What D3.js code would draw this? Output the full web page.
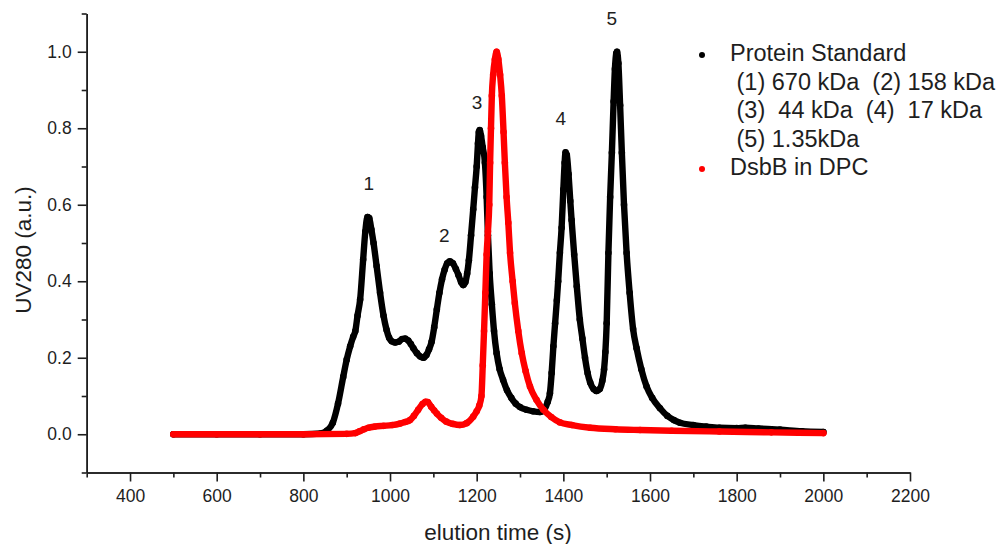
<!DOCTYPE html>
<html>
<head>
<meta charset="utf-8">
<script src="https://cdn.jsdelivr.net/npm/d3@7"></script>
<style>
  html, body { margin: 0; padding: 0; background: #fff; }
  svg { display: block; font-family: "Liberation Sans", Arial, sans-serif; }
  text { white-space: pre; }
</style>
</head>
<body>
<svg id="chart" width="1001" height="544"></svg>
<script>
// Elution time (s) and UV280 absorbance for the protein standard run
const standardTime = [500, 600, 700, 800, 840, 855, 868, 880, 892, 900, 908, 915, 920, 925, 931, 938, 943, 948, 952, 957, 962, 969, 977, 985, 992, 998, 1004, 1012, 1020, 1028, 1035, 1042, 1048, 1054, 1062, 1070, 1077, 1084, 1090, 1096, 1102, 1108, 1114, 1120, 1126, 1132, 1138, 1145, 1152, 1158, 1164, 1169, 1174, 1178, 1182, 1187, 1192, 1196, 1200, 1203, 1205, 1207, 1210, 1214, 1219, 1223, 1226, 1230, 1235, 1240, 1246, 1253, 1261, 1270, 1280, 1290, 1300, 1315, 1330, 1346, 1356, 1364, 1369, 1373, 1377, 1381, 1385, 1388, 1392, 1396, 1400, 1403, 1405, 1408, 1412, 1416, 1419, 1425, 1431, 1438, 1444, 1450, 1456, 1462, 1470, 1477, 1484, 1490, 1494, 1497, 1500, 1504, 1508, 1512, 1516, 1519, 1522, 1524, 1527, 1531, 1535, 1540, 1546, 1553, 1561, 1569, 1580, 1592, 1605, 1623, 1640, 1655, 1669, 1700, 1730, 1760, 1800, 1820, 1850, 1900, 1950, 2000];
const standardUV = [0, 0, 0, 0, 0.002, 0.01, 0.03, 0.08, 0.15, 0.195, 0.23, 0.255, 0.27, 0.31, 0.352, 0.457, 0.53, 0.568, 0.565, 0.535, 0.5, 0.44, 0.37, 0.31, 0.273, 0.252, 0.243, 0.24, 0.242, 0.249, 0.25, 0.245, 0.236, 0.225, 0.212, 0.203, 0.2, 0.207, 0.222, 0.242, 0.28, 0.326, 0.37, 0.405, 0.43, 0.447, 0.452, 0.447, 0.432, 0.416, 0.398, 0.39, 0.398, 0.42, 0.455, 0.52, 0.588, 0.645, 0.7, 0.76, 0.79, 0.795, 0.78, 0.75, 0.71, 0.62, 0.52, 0.42, 0.34, 0.27, 0.212, 0.17, 0.142, 0.115, 0.095, 0.08, 0.071, 0.064, 0.06, 0.058, 0.065, 0.085, 0.107, 0.16, 0.23, 0.29, 0.35, 0.4, 0.474, 0.54, 0.64, 0.71, 0.737, 0.73, 0.68, 0.61, 0.56, 0.47, 0.387, 0.3, 0.25, 0.2, 0.16, 0.135, 0.118, 0.113, 0.118, 0.14, 0.17, 0.215, 0.29, 0.474, 0.62, 0.736, 0.87, 0.955, 0.995, 1.0, 0.97, 0.86, 0.736, 0.6, 0.474, 0.37, 0.275, 0.225, 0.17, 0.125, 0.095, 0.068, 0.048, 0.037, 0.03, 0.024, 0.02, 0.017, 0.016, 0.017, 0.015, 0.012, 0.008, 0.006];

// Elution time (s) and UV280 absorbance for DsbB in DPC micelles
const dsbbTime = [500, 600, 700, 800, 900, 920, 930, 940, 950, 965, 985, 1005, 1023, 1035, 1046, 1055, 1065, 1075, 1082, 1087, 1095, 1102, 1108, 1118, 1130, 1145, 1161, 1177, 1192, 1200, 1206, 1211, 1214, 1217, 1220, 1223, 1226, 1229, 1231, 1233, 1235, 1238, 1242, 1246, 1250, 1254, 1258, 1262, 1265, 1269, 1273, 1277, 1283, 1288, 1296, 1304, 1313, 1323, 1338, 1354, 1372, 1392, 1420, 1462, 1520, 1577, 1650, 1760, 1880, 2000];
const dsbbUV = [0, 0, 0, 0, 0.001, 0.003, 0.008, 0.013, 0.017, 0.02, 0.022, 0.024, 0.028, 0.032, 0.037, 0.048, 0.064, 0.079, 0.085, 0.084, 0.072, 0.062, 0.054, 0.043, 0.033, 0.027, 0.024, 0.029, 0.046, 0.06, 0.075, 0.1, 0.18, 0.27, 0.37, 0.47, 0.53, 0.6, 0.71, 0.8, 0.885, 0.94, 0.98, 1.0, 0.98, 0.94, 0.885, 0.79, 0.71, 0.62, 0.553, 0.474, 0.4, 0.343, 0.27, 0.212, 0.165, 0.125, 0.09, 0.064, 0.045, 0.031, 0.024, 0.017, 0.013, 0.011, 0.009, 0.007, 0.005, 0.003];

// Peak numbers and where their labels sit (time, absorbance)
const peakLabels = ["1", "2", "3", "4", "5"];
const peakLabelTime = [951, 1125, 1201, 1394, 1512];
const peakLabelUV = [0.656, 0.52, 0.868, 0.826, 1.086];

// Axis ticks
const xMajorTicks = [400, 600, 800, 1000, 1200, 1400, 1600, 1800, 2000, 2200];
const xMinorTicks = [300, 500, 700, 900, 1100, 1300, 1500, 1700, 1900, 2100];
const yMajorTicks = [0.0, 0.2, 0.4, 0.6, 0.8, 1.0];
const yMinorTicks = [-0.1, 0.1, 0.3, 0.5, 0.7, 0.9, 1.1];

// Legend entries
const legendLines = ["Protein Standard", " (1) 670 kDa  (2) 158 kDa", " (3)  44 kDa  (4)  17 kDa", " (5) 1.35kDa", "DsbB in DPC"];
const legendDots = [{ line: 0, color: "#000" }, { line: 4, color: "#ff0000" }];

const svg = d3.select("#chart");
const ink = "#1e1e1e";

const x = d3.scaleLinear().domain([300, 2200]).range([86.7, 910]);
const y = d3.scaleLinear().domain([-0.1, 1.1]).range([472.5, 13.5]);

// Axes
const axisX = svg.append("g").attr("transform", `translate(0,${y(-0.1)})`);
axisX.call(d3.axisBottom(x).tickValues(xMajorTicks).tickSize(9).tickSizeOuter(0).tickPadding(8).tickFormat(d3.format("d")));
const axisXMinor = svg.append("g").attr("transform", `translate(0,${y(-0.1)})`);
axisXMinor.call(d3.axisBottom(x).tickValues(xMinorTicks).tickSize(5).tickSizeOuter(0).tickFormat(""));

const axisY = svg.append("g").attr("transform", `translate(${x(300)},0)`);
axisY.call(d3.axisLeft(y).tickValues(yMajorTicks).tickSize(9).tickSizeOuter(0).tickPadding(6).tickFormat(d3.format(".1f")));
const axisYMinor = svg.append("g").attr("transform", `translate(${x(300)},0)`);
axisYMinor.call(d3.axisLeft(y).tickValues(yMinorTicks).tickSize(5).tickSizeOuter(0).tickFormat(""));

svg.selectAll(".domain, .tick line").attr("stroke", ink).attr("stroke-width", 1.6);
svg.selectAll(".tick text").attr("fill", ink).attr("font-size", 17.5).attr("font-family", "'Liberation Sans', Arial, sans-serif");

// Axis titles
svg.append("text")
  .attr("x", 498).attr("y", 532)
  .attr("text-anchor", "middle").attr("dominant-baseline", "central")
  .attr("font-size", 22.5).attr("fill", ink)
  .text("elution time (s)");

svg.append("text")
  .attr("transform", "translate(23,250) rotate(-90)")
  .attr("text-anchor", "middle").attr("dominant-baseline", "central")
  .attr("font-size", 22.5).attr("fill", ink)
  .text("UV280 (a.u.)");

// Draw one trace as a dense run of scatter dots
function drawTrace(times, values, color) {
  const pts = times.map((t, i) => [t, values[i]]);
  const g = svg.append("g");
  g.append("path")
    .datum(pts)
    .attr("fill", "none")
    .attr("stroke", color)
    .attr("stroke-width", 6.4)
    .attr("stroke-linejoin", "round")
    .attr("stroke-linecap", "round")
    .attr("d", d3.line().x(d => x(d[0])).y(d => y(d[1])).curve(d3.curveMonotoneX));
  g.selectAll("circle")
    .data(pts)
    .join("circle")
    .attr("cx", d => x(d[0]))
    .attr("cy", d => y(d[1]))
    .attr("r", 3.3)
    .attr("fill", color);
}

drawTrace(standardTime, standardUV, "#000");
drawTrace(dsbbTime, dsbbUV, "#ff0000");

// Peak numbers
svg.append("g").selectAll("text")
  .data(peakLabels)
  .join("text")
  .attr("x", (d, i) => x(peakLabelTime[i]))
  .attr("y", (d, i) => y(peakLabelUV[i]))
  .attr("text-anchor", "middle").attr("dominant-baseline", "central")
  .attr("font-size", 19).attr("fill", ink)
  .text(d => d);

// Legend
const legend = svg.append("g");
const legendTop = 53, legendStep = 28.5;
legend.selectAll("text")
  .data(legendLines)
  .join("text")
  .attr("x", 730)
  .attr("y", (d, i) => legendTop + i * legendStep)
  .attr("dominant-baseline", "central")
  .attr("font-size", 23.5).attr("fill", ink)
  .text(d => d);
legend.selectAll("circle")
  .data(legendDots)
  .join("circle")
  .attr("cx", 702)
  .attr("cy", d => legendTop + 2 + d.line * legendStep)
  .attr("r", 3)
  .attr("fill", d => d.color);
</script>
</body>
</html>
